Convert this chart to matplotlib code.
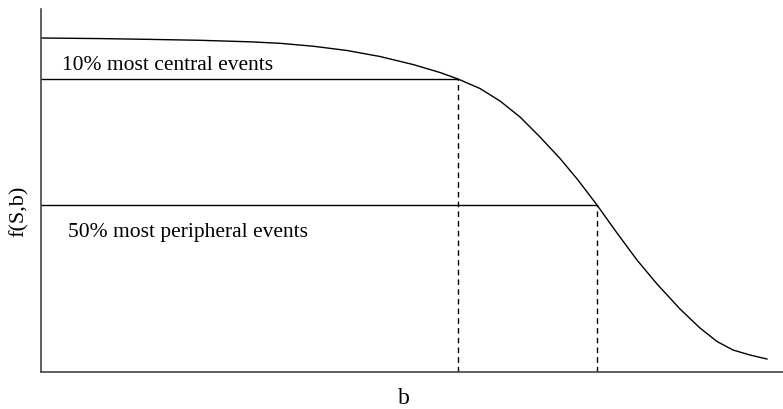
import matplotlib
matplotlib.use("Agg")
import matplotlib.pyplot as plt

plt.rcParams["font.family"] = ["Liberation Serif", "DejaVu Serif"]

# overlap function f(S,b) versus impact parameter b (arbitrary units)
b_vals = [0.0000, 0.0795, 0.1469, 0.2143, 0.2817, 0.3221, 0.3666, 0.4124,
          0.4569, 0.5013, 0.5377, 0.5620, 0.5916, 0.6186, 0.6456, 0.6725,
          0.6995, 0.7237, 0.7493, 0.7763, 0.8032, 0.8302, 0.8612, 0.8881,
          0.9111, 0.9326, 0.9555, 0.9784]
f_vals = [0.9201, 0.9185, 0.9163, 0.9138, 0.9096, 0.9055, 0.8975, 0.8857,
          0.8691, 0.8471, 0.8251, 0.8072, 0.7810, 0.7466, 0.7025, 0.6474,
          0.5882, 0.5289, 0.4601, 0.3829, 0.3085, 0.2424, 0.1736, 0.1212,
          0.0840, 0.0606, 0.0468, 0.0358]

# centrality cuts: b at the cut, f at the cut, label
cut_b = [0.5620, 0.7493]
cut_f = [0.8072, 0.4601]
cut_labels = ["10% most central events", "50% most peripheral events"]
label_pos = [(0.028, 0.832), (0.036, 0.372)]

fig = plt.figure(figsize=(7.83, 4.09), dpi=100)
ax = fig.add_axes([41 / 783, 37 / 409, 742 / 783, 363 / 409])

ax.plot(b_vals, f_vals, color="black", lw=1.0, solid_joinstyle="round")
for bc, fc in zip(cut_b, cut_f):
    ax.plot([0, bc], [fc, fc], color="black", lw=1.0)
    ax.plot([bc, bc], [0, fc], color="black", lw=1.0, ls=(0, (4, 3)))
for (tx, ty), lab in zip(label_pos, cut_labels):
    ax.text(tx, ty, lab, fontsize=15.5, va="baseline", ha="left")

ax.set_xlim(0, 1)
ax.set_ylim(0, 1)
ax.set_xticks([])
ax.set_yticks([])
for side in ["top", "right"]:
    ax.spines[side].set_visible(False)
for side in ["left", "bottom"]:
    ax.spines[side].set_color("#444444")
    ax.spines[side].set_linewidth(1.2)

fig.text(404 / 783, 1 - 404 / 409, "b", fontsize=17, ha="center", va="baseline")
fig.text(19 / 783, 1 - 211 / 409, "f(S,b)", fontsize=16, ha="center",
         va="center", rotation=90)

fig.savefig("out.png", dpi=100)
